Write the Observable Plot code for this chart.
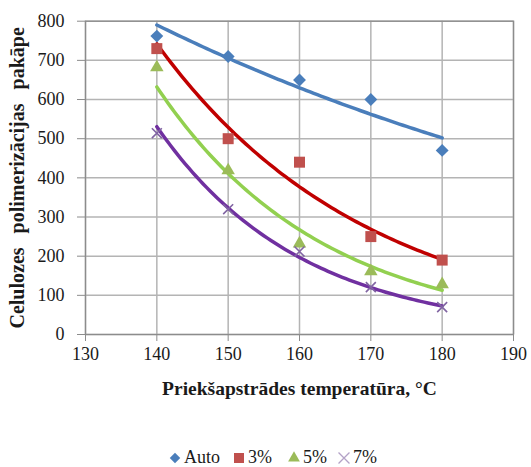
<!DOCTYPE html>
<html>
<head>
<meta charset="utf-8">
<script src="https://cdn.jsdelivr.net/npm/d3@7"></script>
<script src="https://cdn.jsdelivr.net/npm/@observablehq/plot@0.6"></script>
<style>
  body { margin: 0; background: #fff; font-family: "Liberation Serif", "Times New Roman", serif; }
  #chart { width: 531px; }
  g[aria-label="x-axis label"] text { font-weight: bold; font-size: 19.5px; }
  g[aria-label="y-axis label"] text { font-weight: bold; font-size: 20px; word-spacing: 9px; }
  #legend { position: relative; height: 22px; font-size: 18px; color: #1a1a1a; }
  #legend .item { position: absolute; top: 2px; display: flex; align-items: center; }
  #legend svg { margin-right: 2px; }
</style>
</head>
<body>
<div id="chart"></div>
<div id="legend"></div>
<script>
const temps = [140, 150, 160, 170, 180];
const seriesNames = ["Auto", "3%", "5%", "7%"];
const autoVals = [762, 710, 650, 600, 470];
const p3Vals = [730, 500, 440, 250, 190];
const p5Vals = [682, 419, 232, 161, 128];
const p7Vals = [514, 320, 212, 121, 70];
const xTicks = [130, 140, 150, 160, 170, 180, 190];
const yTicks = [0, 100, 200, 300, 400, 500, 600, 700, 800];

const markerColors = ["#4a7ebb", "#c0504d", "#9bbb59", "#8064a2"];
const lineColors = ["#4a7ebb", "#c00000", "#92d050", "#7030a0"];
const symbols = ["diamond2", "square", "triangle", "times"];
const sizes = [5.8, 6.2, 5.0, 4.6];

const valueLists = [autoVals, p3Vals, p5Vals, p7Vals];
const points = [];
valueLists.forEach((vals, i) => temps.forEach((t, j) => points.push({series: seriesNames[i], t, v: vals[j], i})));

// Exponential (Excel-style) trendline fitted to each series' data
const trend = [];
valueLists.forEach((vals, i) => {
  const lx = temps, ly = vals.map(Math.log);
  const mx = d3.mean(lx), my = d3.mean(ly);
  const b = d3.sum(lx.map((x, k) => (x - mx) * (ly[k] - my))) / d3.sum(lx.map(x => (x - mx) ** 2));
  const a = my - b * mx;
  for (let x = temps[0]; x <= temps[temps.length - 1] + 1e-9; x += 0.5) {
    trend.push({series: seriesNames[i], t: x, v: Math.exp(a + b * x), i});
  }
});

const W = 531, H = 445;
const plot = Plot.plot({
  width: W, height: H,
  marginTop: 20.7, marginBottom: H - 334, marginLeft: 85, marginRight: 18,
  style: {fontFamily: "'Liberation Serif', 'Times New Roman', serif", fontSize: "18px", background: "#fff", overflow: "visible"},
  x: {domain: [130, 190]},
  y: {domain: [0, 800]},
  marks: [
    Plot.gridX(xTicks, {stroke: "#b4b4b4", strokeOpacity: 1, strokeWidth: 1.5}),
    Plot.gridY(yTicks, {stroke: "#b4b4b4", strokeOpacity: 1, strokeWidth: 1.5}),
    Plot.frame({stroke: "#8c8c8c", strokeWidth: 1.3}),
    Plot.axisY({ticks: yTicks, tickSize: 8, tickPadding: 13, stroke: "#8c8c8c", fill: "#1a1a1a",
      label: "Celulozes polimerizācijas pakāpe", labelAnchor: "center", labelArrow: "none", labelOffset: 76}),
    Plot.axisX({ticks: xTicks, tickSize: 7, tickPadding: 6, stroke: "#8c8c8c", fill: "#1a1a1a",
      label: "Priekšapstrādes temperatūra, °C", labelAnchor: "center", labelArrow: "none", labelOffset: 60}),
    ...seriesNames.map((s, i) => Plot.line(trend.filter(d => d.i === i), {x: "t", y: "v", stroke: lineColors[i], strokeWidth: 3.5, curve: "linear"})),
    ...seriesNames.map((s, i) => Plot.dot(points.filter(d => d.i === i), {
      x: "t", y: "v", symbol: () => symbols[i], r: sizes[i],
      fill: i === 3 ? "none" : markerColors[i],
      stroke: i === 3 ? markerColors[i] : "none",
      strokeWidth: i === 3 ? 1.6 : 0
    }))
  ]
});
document.getElementById("chart").appendChild(plot);

// Legend
const legend = document.getElementById("legend");
const lx = [168, 232, 287, 337];
seriesNames.forEach((s, i) => {
  const item = document.createElement("div");
  item.className = "item";
  item.style.left = lx[i] + "px";
  const sym = d3.create("svg").attr("width", 14).attr("height", 14);
  const path = d3.symbol().type({diamond2: d3.symbolDiamond2, square: d3.symbolSquare, triangle: d3.symbolTriangle, times: d3.symbolTimes}[symbols[i]]).size([70, 100, 60, 80][i])();
  sym.append("path").attr("transform", "translate(7,7)").attr("d", path)
    .attr("fill", i === 3 ? "none" : markerColors[i])
    .attr("stroke", i === 3 ? "#b3a2c7" : "none").attr("stroke-width", 1.3);
  item.appendChild(sym.node());
  const lab = document.createElement("span");
  lab.textContent = s;
  item.appendChild(lab);
  legend.appendChild(item);
});
</script>
</body>
</html>
